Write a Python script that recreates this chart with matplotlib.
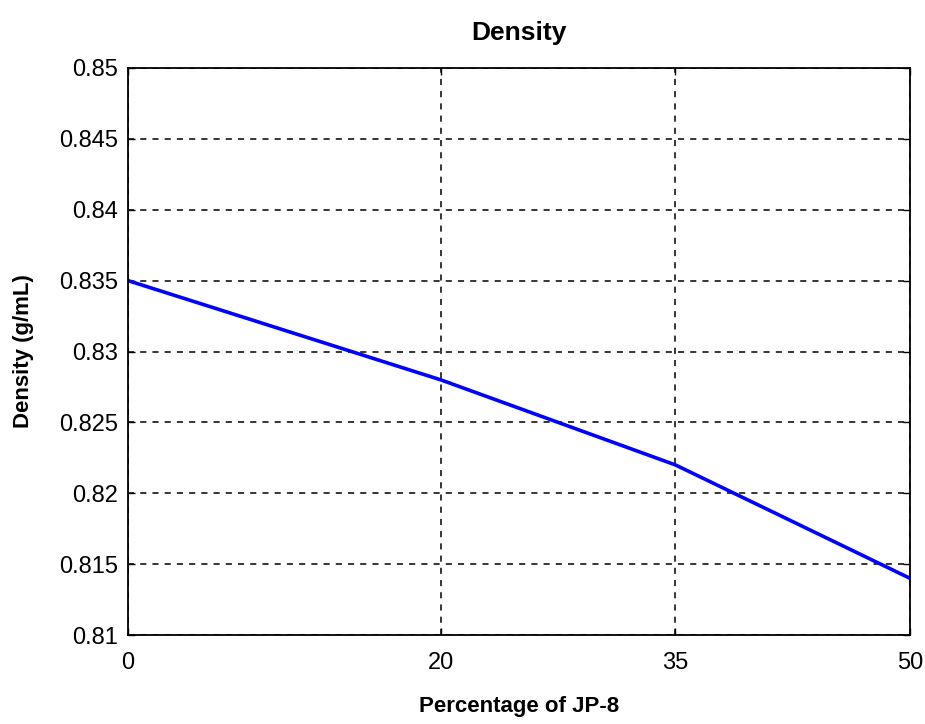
import matplotlib
matplotlib.use("Agg")
import matplotlib.pyplot as plt

# data
jp8_pct = [0, 20, 35, 50]
density = [0.835, 0.828, 0.822, 0.814]
x_ticks = [0, 20, 35, 50]
y_ticks = [0.81, 0.815, 0.82, 0.825, 0.83, 0.835, 0.84, 0.845, 0.85]
y_labels = ["0.81", "0.815", "0.82", "0.825", "0.83", "0.835", "0.84", "0.845", "0.85"]

plt.rcParams['font.family'] = ['Liberation Sans', 'DejaVu Sans']

fig = plt.figure(figsize=(9.25, 7.24), dpi=100)
ax = fig.add_axes([0.1384, 0.1229, 0.8454, 0.7832])

ax.plot(jp8_pct, density, color="#0000ff", linewidth=2.6)

ax.set_xlim(0, 50)
ax.set_ylim(0.81, 0.85)
ax.set_xticks(x_ticks)
ax.set_xticklabels([str(v) for v in x_ticks])
ax.set_yticks(y_ticks)
ax.set_yticklabels(y_labels)
ax.tick_params(direction="in", length=5, width=1, top=True, right=True,
               labelsize=17)
ax.tick_params(axis="x", pad=12)
ax.tick_params(axis="y", pad=7)

ax.grid(True, color="black", linestyle=(0, (4, 4)), linewidth=1.1)
for s in ax.spines.values():
    s.set_linewidth(1.3)

ax.set_title("Density", fontsize=19, fontweight="bold", pad=20)
ax.set_xlabel("Percentage of JP-8", fontsize=16, fontweight="bold", labelpad=16)
ax.set_ylabel("Density (g/mL)", fontsize=16, fontweight="bold", labelpad=18)

fig.savefig("out.png", dpi=100)
